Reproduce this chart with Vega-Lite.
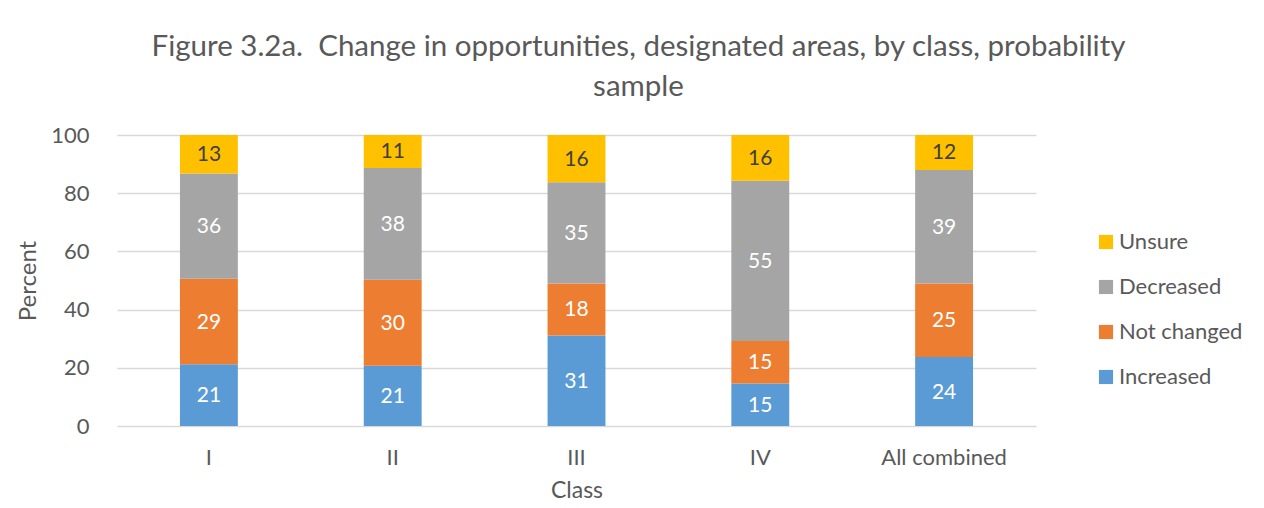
{
  "$schema": "https://vega.github.io/schema/vega-lite/v6.json",
  "autosize": "none",
  "width": 919,
  "height": 291,
  "padding": {"left": 117, "top": 135, "right": 228, "bottom": 82},
  "background": "white",
  "config": {
    "font": "Lato",
    "view": {"stroke": null},
    "axis": {"labelColor": "#595959", "titleColor": "#595959", "labelFont": "Lato", "titleFont": "Lato", "titleFontWeight": "normal"}
  },
  "title": {
    "text": ["Figure 3.2a.\u00a0 Change in opportunities, designated areas, by class, probability", "sample"],
    "fontSize": 29.5,
    "fontWeight": "normal",
    "color": "#595959",
    "font": "Lato",
    "anchor": "middle",
    "lineHeight": 40,
    "dx": 62,
    "offset": 22
  },
  "data": {
    "values": [
      {"class": "I", "cat": "Increased", "order": 1, "value": 21.2},
      {"class": "I", "cat": "Not changed", "order": 2, "value": 29.4},
      {"class": "I", "cat": "Decreased", "order": 3, "value": 36.2},
      {"class": "I", "cat": "Unsure", "order": 4, "value": 13.2},
      {"class": "II", "cat": "Increased", "order": 1, "value": 20.7},
      {"class": "II", "cat": "Not changed", "order": 2, "value": 29.6},
      {"class": "II", "cat": "Decreased", "order": 3, "value": 38.4},
      {"class": "II", "cat": "Unsure", "order": 4, "value": 11.3},
      {"class": "III", "cat": "Increased", "order": 1, "value": 31.1},
      {"class": "III", "cat": "Not changed", "order": 2, "value": 17.9},
      {"class": "III", "cat": "Decreased", "order": 3, "value": 34.8},
      {"class": "III", "cat": "Unsure", "order": 4, "value": 16.2},
      {"class": "IV", "cat": "Increased", "order": 1, "value": 14.6},
      {"class": "IV", "cat": "Not changed", "order": 2, "value": 14.6},
      {"class": "IV", "cat": "Decreased", "order": 3, "value": 55.1},
      {"class": "IV", "cat": "Unsure", "order": 4, "value": 15.7},
      {"class": "All combined", "cat": "Increased", "order": 1, "value": 23.7},
      {"class": "All combined", "cat": "Not changed", "order": 2, "value": 25.3},
      {"class": "All combined", "cat": "Decreased", "order": 3, "value": 39.0},
      {"class": "All combined", "cat": "Unsure", "order": 4, "value": 12.0}
    ]
  },
  "encoding": {
    "x": {
      "field": "class",
      "type": "nominal",
      "sort": ["I", "II", "III", "IV", "All combined"],
      "scale": {"paddingInner": 0.685, "paddingOuter": 0.3425},
      "axis": {
        "title": "Class",
        "titleFontSize": 23,
        "titlePadding": 11,
        "labelFontSize": 22,
        "labelAngle": 0,
        "labelPadding": 21,
        "ticks": false,
        "domain": false
      }
    }
  },
  "layer": [
    {
      "mark": {"type": "bar"},
      "encoding": {
        "y": {
          "field": "value",
          "type": "quantitative",
          "stack": "zero",
          "scale": {"domain": [0, 100]},
          "axis": {
            "title": "Percent",
            "titleFontSize": 24,
            "titlePadding": 10,
            "labelFontSize": 22,
            "labelPadding": 28,
            "values": [0, 20, 40, 60, 80, 100],
            "ticks": false,
            "domain": false,
            "gridColor": "#d9d9d9",
            "gridWidth": 1.3
          }
        },
        "color": {
          "field": "cat",
          "type": "nominal",
          "scale": {
            "domain": ["Unsure", "Decreased", "Not changed", "Increased"],
            "range": ["#FFC000", "#A5A5A5", "#ED7D31", "#5B9BD5"]
          },
          "legend": {
            "title": null,
            "orient": "none",
            "legendX": 978,
            "legendY": 96,
            "symbolType": "square",
            "symbolSize": 200,
            "symbolStrokeWidth": 0,
            "labelFontSize": 22,
            "labelColor": "#595959",
            "labelFont": "Lato",
            "rowPadding": 23,
            "labelOffset": 2,
            "padding": 0
          }
        },
        "order": {"field": "order", "type": "quantitative"}
      }
    },
    {
      "transform": [
        {"stack": "value", "groupby": ["class"], "sort": [{"field": "order"}], "as": ["y0", "y1"]},
        {"fold": ["y0", "y1"], "as": ["k", "v"]},
        {"aggregate": [{"op": "mean", "field": "v", "as": "mid"}], "groupby": ["class", "cat", "value", "order"]}
      ],
      "mark": {"type": "text", "fontSize": 21, "font": "Lato", "baseline": "middle", "align": "center", "dy": 1},
      "encoding": {
        "y": {"field": "mid", "type": "quantitative"},
        "text": {"field": "value", "type": "quantitative", "format": ".0f"},
        "color": {
          "condition": {"test": "datum.cat === 'Unsure'", "value": "#404040"},
          "value": "#ffffff"
        }
      }
    }
  ]
}
